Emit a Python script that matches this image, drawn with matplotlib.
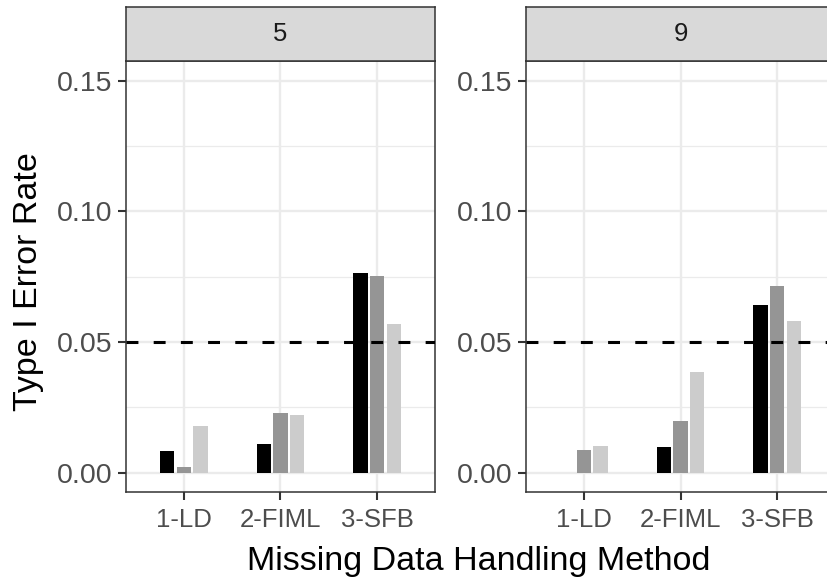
import numpy as np
import matplotlib
matplotlib.use('Agg')
import matplotlib.pyplot as plt
from matplotlib.ticker import MultipleLocator

plt.rcParams['font.family'] = ['Liberation Sans', 'DejaVu Sans']

methods = ['1-LD', '2-FIML', '3-SFB']
panels = ['5', '9']

# one list per fill level, per panel
black_5 = [0.0082, 0.0110, 0.0765]
grey_5 = [0.0020, 0.0227, 0.0752]
light_5 = [0.0177, 0.0220, 0.0570]

black_9 = [0.0000, 0.0098, 0.0642]
grey_9 = [0.0086, 0.0198, 0.0714]
light_9 = [0.0101, 0.0385, 0.0580]

fills = ['#000000', '#959595', '#CCCCCC']
panel_data = [[black_5, grey_5, light_5], [black_9, grey_9, light_9]]

W, H = 828, 579
fig = plt.figure(figsize=(W / 100, H / 100), dpi=100)

# pixel boxes (left, top, right, bottom) from the reference
panel_px = [(126, 61, 435, 492.3), (526, 61, 835, 492.3)]
strip_top = 7.3

x = np.arange(len(methods))
spacing = 0.173
bar_w = 0.15

for (l, t, r, b), name, series in zip(panel_px, panels, panel_data):
	ax = fig.add_axes([l / W, (H - b) / H, (r - l) / W, (b - t) / H])
	ax.set_facecolor('white')
	ax.set_xlim(-0.6, 2.6)
	ax.set_ylim(-0.0075, 0.1575)
	ax.yaxis.set_minor_locator(MultipleLocator(0.025))
	ax.set_yticks([0.0, 0.05, 0.10, 0.15])
	ax.set_yticklabels(['0.00', '0.05', '0.10', '0.15'])
	ax.set_xticks(x)
	ax.set_xticklabels(methods)
	ax.set_axisbelow(True)
	ax.grid(which='major', color='#EBEBEB', linewidth=1.7)
	ax.grid(which='minor', axis='y', color='#EBEBEB', linewidth=0.9)
	ax.tick_params(which='major', length=6, width=1.5, color='#333333', pad=4)
	ax.tick_params(which='minor', length=0)
	ax.tick_params(axis='y', labelsize=20.5, labelcolor='#4D4D4D')
	ax.tick_params(axis='x', labelsize=18.5, labelcolor='#4D4D4D', pad=5)
	for s in ax.spines.values():
		s.set_color('#333333')
		s.set_linewidth(1.1)

	for i, (vals, col) in enumerate(zip(series, fills)):
		ax.bar(x + (i - 1) * spacing, vals, width=bar_w, color=col, linewidth=0, zorder=2)

	ax.axhline(0.05, color='black', linewidth=2.2, linestyle=(0, (3.9, 5.0)),
		dash_capstyle='butt', zorder=3)

	# facet strip
	sax = fig.add_axes([l / W, (H - t) / H, (r - l) / W, (t - strip_top) / H])
	sax.set_facecolor('#D9D9D9')
	sax.set_xticks([])
	sax.set_yticks([])
	for s in sax.spines.values():
		s.set_color('#333333')
		s.set_linewidth(1.1)
	sax.text(0.5, 0.5, name, ha='center', va='center', fontsize=18.5,
		color='#1A1A1A', transform=sax.transAxes)

fig.text(479 / W, (H - 570) / H, 'Missing Data Handling Method', ha='center',
	va='baseline', fontsize=24.5, color='black')
fig.text(37 / W, (H - 282) / H, 'Type I Error Rate', rotation=90,
	rotation_mode='anchor', ha='center', va='baseline', fontsize=24.5, color='black')

fig.savefig('out.png', dpi=100)
